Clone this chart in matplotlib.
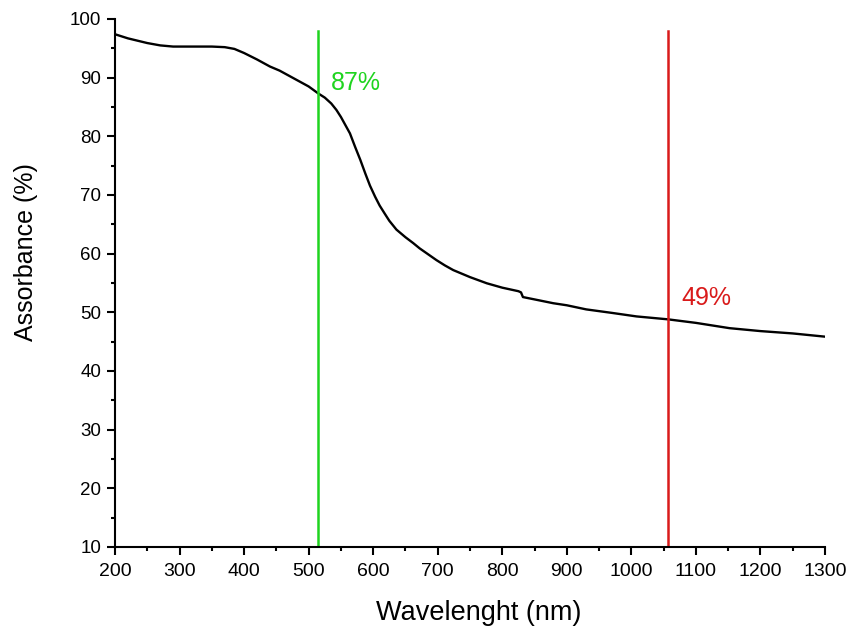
import matplotlib.pyplot as plt
from matplotlib.ticker import MultipleLocator

plt.rcParams['font.family'] = ['Liberation Sans', 'DejaVu Sans']

wavelength = [200, 220, 250, 270, 290, 320, 350, 370, 385, 400, 420, 440, 455, 480, 500, 515,
              525, 535, 543, 550, 557, 564, 572, 580, 588, 595, 603, 610, 618, 625, 636, 650,
              662, 672, 685, 698, 711, 724, 750, 776, 800, 825, 829, 832, 850, 879, 900, 930,
              970, 1008, 1057, 1100, 1152, 1200, 1250, 1300]
absorbance = [97.4, 96.7, 95.9, 95.5, 95.3, 95.3, 95.3, 95.2, 94.9, 94.2, 93.1, 91.9, 91.2, 89.7,
              88.5, 87.3, 86.6, 85.6, 84.5, 83.3, 81.9, 80.5, 78.2, 76.0, 73.6, 71.6, 69.7, 68.2,
              66.8, 65.6, 64.1, 62.8, 61.8, 60.9, 59.9, 58.9, 58.0, 57.2, 56.0, 54.95, 54.2,
              53.6, 53.4, 52.6, 52.2, 51.55, 51.2, 50.5, 49.9, 49.3, 48.8, 48.2, 47.3, 46.8,
              46.4, 45.85]

marker_nm = [515, 1057]
marker_labels = ['87%', '49%']
marker_colors = ['#1fd41f', '#d91a1a']
label_raise = [0.6, 2.45]

fig = plt.figure(figsize=(8.5, 6.29), dpi=100)
ax = fig.add_axes([0.1353, 0.1304, 0.8353, 0.8394])

ax.plot(wavelength, absorbance, color='black', lw=1.7)

for x, lab, c, dy in zip(marker_nm, marker_labels, marker_colors, label_raise):
    ax.plot([x, x], [10, 98], color=c, lw=1.8)
    y = absorbance[wavelength.index(x)]
    ax.text(x + 20, y + dy, lab, color=c, fontsize=18, va='baseline', ha='left')

ax.set_xlim(200, 1300)
ax.set_ylim(10, 100)
ax.xaxis.set_major_locator(MultipleLocator(100))
ax.xaxis.set_minor_locator(MultipleLocator(50))
ax.yaxis.set_major_locator(MultipleLocator(10))
ax.yaxis.set_minor_locator(MultipleLocator(5))

ax.spines['top'].set_visible(False)
ax.spines['right'].set_visible(False)
for s in ['left', 'bottom']:
    ax.spines[s].set_linewidth(1.5)

ax.tick_params(which='major', direction='out', length=5.5, width=1.5)
ax.tick_params(which='minor', direction='out', length=3, width=1.5)
ax.tick_params(axis='x', which='major', labelsize=14, pad=6)
ax.tick_params(axis='y', which='major', labelsize=13.5, pad=4.5)

fig.text(479 / 850, 1 - 613 / 629, 'Wavelenght (nm)', fontsize=19.5, ha='center', va='center')
fig.text(26 / 850, 1 - 252 / 629, 'Assorbance (%)', fontsize=18, ha='center', va='center',
         rotation=90)

fig.savefig('out.png', dpi=100)
